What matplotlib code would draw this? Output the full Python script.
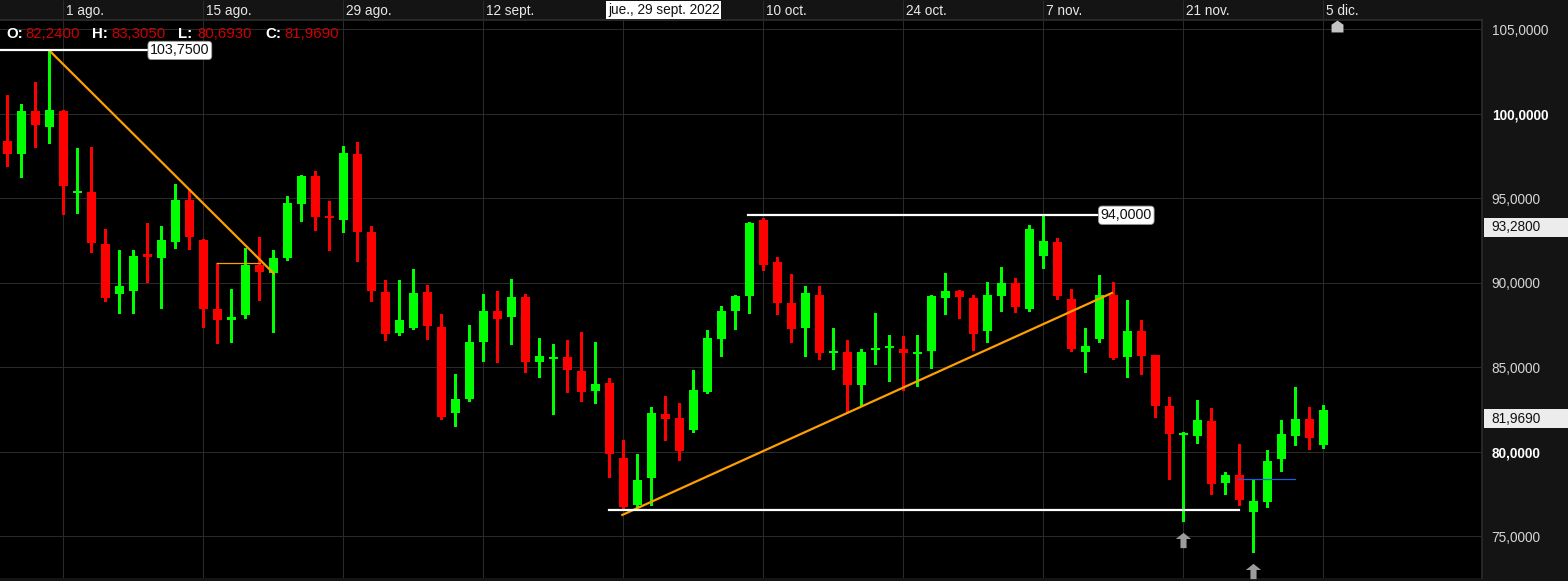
import numpy as np
import pandas as pd
import matplotlib
matplotlib.use("Agg")
import matplotlib.pyplot as plt
import matplotlib.transforms as mtransforms
from matplotlib.path import Path
from matplotlib.patches import Rectangle

plt.rcParams['font.family'] = ['Liberation Sans', 'DejaVu Sans']

# ---------------------------------------------------------------- data
sessions = pd.bdate_range('2022-07-26', '2022-12-05')

opens = [98.42, 97.61, 100.14, 99.21, 100.19, 95.30, 95.35, 92.28, 89.34, 89.50,
         91.69, 91.47, 92.42, 94.88, 92.56, 88.48, 87.81, 88.09, 91.03, 90.56,
         91.47, 94.66, 96.31, 93.93, 93.70, 97.65, 93.01, 89.43, 87.04, 87.34,
         89.44, 87.38, 82.31, 83.14, 86.51, 88.33, 87.98, 89.15, 85.33, 85.47,
         85.63, 84.81, 83.63, 84.09, 79.64, 76.86, 78.46, 82.24, 81.99, 81.29,
         83.56, 86.65, 88.36, 89.21, 93.70, 91.22, 88.80, 87.32, 89.31, 85.84,
         85.90, 83.95, 86.00, 86.15, 86.06, 85.78, 85.96, 89.13, 89.49, 89.13,
         87.14, 89.25, 90.02, 88.48, 91.58, 92.40, 89.03, 85.90, 86.67, 89.31,
         85.60, 87.14, 85.72, 82.71, 81.00, 80.94, 81.82, 78.16, 78.64, 76.45,
         77.05, 79.59, 80.94, 81.94, 80.41]
highs = [101.14, 100.59, 101.87, 103.75, 100.25, 97.97, 98.03, 93.21, 91.97, 91.93,
         93.54, 93.34, 95.87, 95.57, 92.60, 91.18, 89.66, 92.06, 92.71, 91.93,
         95.12, 96.40, 96.59, 94.82, 98.07, 98.36, 93.34, 90.19, 90.19, 90.84,
         89.90, 88.15, 84.60, 87.50, 89.33, 89.51, 90.25, 89.33, 86.73, 86.38,
         86.61, 87.12, 86.48, 84.37, 80.70, 79.87, 82.65, 83.305, 82.88, 84.83,
         87.24, 88.64, 89.31, 93.58, 93.82, 91.51, 90.50, 89.80, 89.80, 87.30,
         86.61, 86.06, 88.19, 86.90, 86.83, 86.89, 89.27, 90.61, 89.55, 89.31,
         90.08, 90.96, 90.26, 93.44, 94.00, 92.64, 89.61, 87.32, 90.45, 90.08,
         88.97, 87.79, 85.72, 83.23, 81.18, 83.06, 82.59, 78.81, 80.47, 78.34,
         80.11, 81.88, 83.83, 82.65, 82.77]
lows = [96.90, 96.25, 98.03, 98.26, 94.09, 94.13, 91.83, 88.91, 88.19, 88.19,
        90.05, 88.52, 92.06, 92.03, 87.40, 86.46, 86.49, 87.93, 88.97, 87.12,
        91.33, 93.66, 93.15, 91.94, 93.01, 91.27, 88.91, 86.61, 86.92, 87.26,
        86.67, 81.96, 81.55, 83.02, 85.39, 85.33, 86.39, 84.74, 84.44, 82.26,
        83.56, 83.02, 82.90, 78.53, 76.65, 76.76, 76.86, 80.693, 79.52, 81.20,
        83.48, 85.67, 87.26, 88.21, 90.74, 88.15, 86.51, 85.65, 85.48, 84.88,
        82.42, 82.77, 85.18, 84.20, 83.64, 83.88, 84.99, 88.13, 87.91, 86.02,
        86.53, 88.36, 88.25, 88.36, 90.90, 89.03, 85.96, 84.72, 86.49, 85.48,
        84.42, 84.60, 82.06, 78.40, 75.93, 80.52, 77.50, 77.50, 76.87, 74.09,
        76.75, 78.87, 80.41, 80.17, 80.23]
closes = [97.61, 100.19, 99.31, 100.25, 95.72, 95.41, 92.36, 89.11, 89.80, 91.57,
          91.51, 92.51, 94.88, 92.71, 88.46, 87.80, 87.97, 91.03, 90.62, 91.50,
          94.70, 96.31, 93.87, 93.83, 97.71, 93.01, 89.50, 86.97, 87.79, 89.39,
          87.46, 82.08, 83.12, 86.48, 88.33, 87.86, 89.15, 85.33, 85.67, 85.63,
          84.86, 83.56, 84.03, 79.89, 76.75, 78.34, 82.30, 81.969, 80.05, 83.65,
          86.71, 88.36, 89.25, 93.52, 91.04, 88.80, 87.26, 89.39, 85.84, 85.90,
          83.95, 85.90, 86.12, 86.23, 85.83, 85.84, 89.21, 89.49, 89.19, 86.95,
          89.31, 90.02, 88.60, 93.20, 92.46, 89.21, 86.08, 86.26, 89.27, 85.54,
          87.14, 85.66, 82.71, 81.08, 81.06, 81.88, 78.12, 78.64, 77.17, 77.11,
          79.47, 81.06, 81.94, 80.82, 82.47]

# date grid: every second Monday; the 26 sept. label sits under the cursor box
tick_dates = ['2022-08-01', '2022-08-15', '2022-08-29', '2022-09-12', '2022-09-26',
              '2022-10-10', '2022-10-24', '2022-11-07', '2022-11-21', '2022-12-05']
tick_labels = ['1 ago.', '15 ago.', '29 ago.', '12 sept.', '',
               '10 oct.', '24 oct.', '7 nov.', '21 nov.', '5 dic.']
price_levels = [75, 80, 85, 90, 95, 100, 105]
price_labels = ['75,0000', '80,0000', '85,0000', '90,0000', '95,0000', '100,0000', '105,0000']
bold_levels = [80, 100]

cursor_date = '2022-09-29'
cursor_text = 'jue., 29 sept. 2022'
ohlc_names = ['O:', 'H:', 'L:', 'C:']
ohlc_values = ['82,2400', '83,3050', '80,6930', '81,9690']
axis_marks = [93.28, 81.969]
signal_dates = ['2022-11-21', '2022-11-28']

# ---------------------------------------------------------------- layout
W, H = 1568, 581
PLOT_R, PLOT_T, PLOT_B = 1482, 20, 578
fig = plt.figure(figsize=(W / 100, H / 100), dpi=100, facecolor='#141414')

ax = fig.add_axes([0, (H - PLOT_B) / H, PLOT_R / W, (PLOT_B - PLOT_T) / H])
ax.set_facecolor('#000000')
hdr = fig.add_axes([0, (H - 18.5) / H, PLOT_R / W, 18.5 / H])
hdr.set_facecolor('#141414')

x = np.arange(len(sessions))
pos = {d.strftime('%Y-%m-%d'): i for i, d in enumerate(sessions)}
tick_idx = [pos[d] for d in tick_dates]

step_px = 14.0
x0 = -7.3 / step_px
x1 = x0 + PLOT_R / step_px
ax.set_xlim(x0, x1)
hdr.set_xlim(x0, x1)
hdr.set_ylim(0, 1)
ax.set_ylim(72.54, 105.55)

# grid
ax.set_xticks(tick_idx)
ax.set_yticks(price_levels)
ax.grid(True, color='#2a2a2a', linewidth=0.75)
ax.set_axisbelow(True)
ax.tick_params(axis='x', length=0, labelbottom=False)
ax.yaxis.tick_right()
ax.set_yticklabels(price_labels)
ax.tick_params(axis='y', length=0, pad=7, labelsize=9.8, labelcolor='#d6d6d6')
for lab, lvl in zip(ax.get_yticklabels(), price_levels):
    if lvl in bold_levels:
        lab.set_fontweight('bold')
        lab.set_color('#ffffff')
for side in ['left', 'bottom']:
    ax.spines[side].set_visible(False)
ax.spines['top'].set_color('#2e2e2e')
ax.spines['top'].set_linewidth(1.2)
ax.spines['right'].set_color('#2c2c2c')
ax.spines['right'].set_linewidth(1.2)

# header with date labels
hdr.axis('off')
hdr.vlines(tick_idx, 0, 1, color='#2a2a2a', linewidth=0.75)
lab_tr = mtransforms.offset_copy(hdr.transData, fig=fig, x=3, y=0, units='dots')
for i, t in zip(tick_idx, tick_labels):
    if t:
        hdr.text(i, 0.42, t, transform=lab_tr, ha='left', va='center',
                 color='#e8e8e8', fontsize=9.8, zorder=2)
hdr.text(pos[cursor_date] - 0.1, 0.46, cursor_text, ha='center', va='center',
         color='#111111', fontsize=9.8, zorder=5,
         bbox=dict(boxstyle='square,pad=0.12', facecolor='#ffffff', edgecolor='none'))

# ---------------------------------------------------------------- candles
o = np.array(opens); h = np.array(highs); l = np.array(lows); c = np.array(closes)
up = c >= o
cols = np.where(up, '#00ff00', '#ff0000')
ax.vlines(x, l, h, colors=cols, linewidth=0.8, antialiased=False, zorder=3)
body_lo = np.minimum(o, c)
body_h = np.maximum(np.abs(c - o), 0.12)
ax.bar(x, body_h, bottom=body_lo, width=0.64, color=cols, linewidth=0,
       antialiased=False, zorder=4)

# ---------------------------------------------------------------- drawings
orange = '#ff9f00'
ax.plot([3, 19], [103.75, 90.58], color=orange, linewidth=1.6, zorder=5)
ax.plot([15, 18.05], [91.18, 91.18], color=orange, linewidth=0.9, zorder=5)
ax.plot([43.93, 78.9], [76.27, 89.40], color=orange, linewidth=1.6, zorder=5)

ax.plot([x0, 10.05], [103.75, 103.75], color='#ffffff', linewidth=1.6, zorder=5)
ax.plot([52.9, 77.9], [94.0, 94.0], color='#ffffff', linewidth=1.6, zorder=5)
ax.plot([42.98, 87.96], [76.55, 76.55], color='#ffffff', linewidth=1.6, zorder=5)
ax.plot([87.9, 92.0], [78.38, 78.38], color='#1e5fd8', linewidth=0.9, zorder=5)

box = dict(boxstyle='round,pad=0.15,rounding_size=0.25', facecolor='#ffffff',
           edgecolor='#9a9a9a', linewidth=0.6)
ax.text(10.2, 103.75, '103,7500', ha='left', va='center', fontsize=10.3,
        color='#111111', bbox=box, zorder=6)
ax.text(78.1, 94.0, '94,0000', ha='left', va='center', fontsize=10.3,
        color='#111111', bbox=box, zorder=6)

# signal arrows below lows
arrow = Path([(0, 0.5), (0.5, 0.1), (0.2, 0.1), (0.2, -0.5), (-0.2, -0.5),
              (-0.2, 0.1), (-0.5, 0.1), (0, 0.5)],
             [Path.MOVETO] + [Path.LINETO] * 6 + [Path.CLOSEPOLY])
sig_idx = [pos[d] for d in signal_dates]
sig_tr = ax.transData + mtransforms.ScaledTranslation(0, -0.19, fig.dpi_scale_trans)
ax.plot(sig_idx, [lows[i] for i in sig_idx], linestyle='none', marker=arrow,
        markersize=11, color='#9c9c9c', markeredgewidth=0, transform=sig_tr,
        clip_on=False, zorder=6)

# next-session marker at the top edge
house = Path([(-0.5, -0.5), (0.5, -0.5), (0.5, 0.15), (0, 0.5), (-0.5, 0.15), (-0.5, -0.5)],
             [Path.MOVETO] + [Path.LINETO] * 4 + [Path.CLOSEPOLY])
top_tr = mtransforms.blended_transform_factory(ax.transData, ax.transAxes)
ax.plot([len(x)], [0.9885], linestyle='none', marker=house, markersize=8.6,
        color='#c4c4c4', markeredgewidth=0, transform=top_tr, clip_on=False, zorder=6)

# price marks on the axis panel
mark_tr = mtransforms.blended_transform_factory(fig.transFigure, ax.transData)
for v in axis_marks:
    ax.add_patch(Rectangle((1483.5 / W, v - 0.55), (W - 1483.5) / W, 1.1,
                           transform=mark_tr, facecolor='#ececec', edgecolor='none',
                           clip_on=False, zorder=7))
    ax.text(1491.5 / W, v, f'{v:.4f}'.replace('.', ','), transform=mark_tr,
            ha='left', va='center', fontsize=9.8, color='#111111', zorder=8)

# OHLC readout
name_x = [6, 92, 178, 265]
for nx, nm, val in zip(name_x, ohlc_names, ohlc_values):
    fig.text(nx / W, 1 - 34 / H, nm, ha='left', va='center', fontsize=10.8,
             fontweight='bold', color='#ffffff')
    fig.text((nx + 19) / W, 1 - 34 / H, val, ha='left', va='center',
             fontsize=10.8, color='#cc0000')

fig.savefig('out.png', dpi=100, facecolor=fig.get_facecolor())
